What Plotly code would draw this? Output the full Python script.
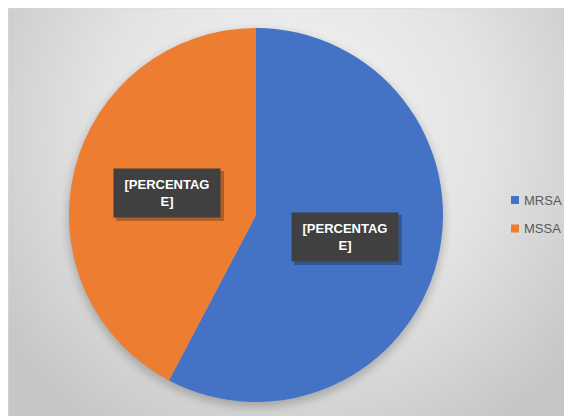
import math
import base64
import plotly.graph_objects as go

# ---- data ----
labels = ["MRSA", "MSSA"]
values = [57.7, 42.3]
colors = ["#4472C4", "#ED7D31"]
data_label_text = ["[PERCENTAG<br>E]", "[PERCENTAG<br>E]"]

W, H = 572, 416
dom_x = [0.1066, 0.7605]
dom_y = [0.0529, 0.9519]

FONT = "Liberation Sans, Arial, sans-serif"

# pie geometry in pixels (margins are zero)
cx_px = (dom_x[0] + dom_x[1]) / 2 * W
cy_px = (dom_y[0] + dom_y[1]) / 2 * H  # from bottom
R_px = min((dom_x[1] - dom_x[0]) * W, (dom_y[1] - dom_y[0]) * H) / 2

# background: radial gradient + soft shadow under the pie
svg = f'''<svg xmlns="http://www.w3.org/2000/svg" width="{W}" height="{H}" viewBox="0 0 {W} {H}">
<defs>
<radialGradient id="g" gradientUnits="userSpaceOnUse" cx="{W*0.5}" cy="{H*0.3}" r="{W*0.62}">
<stop offset="0" stop-color="#f6f6f6"/>
<stop offset="0.55" stop-color="#e3e3e3"/>
<stop offset="1" stop-color="#c6c6c6"/>
</radialGradient>
<filter id="b" x="-20%" y="-20%" width="140%" height="140%"><feGaussianBlur stdDeviation="5"/></filter>
<filter id="s" x="-20%" y="-20%" width="140%" height="140%"><feGaussianBlur stdDeviation="1.5"/></filter>
</defs>
<rect x="0" y="0" width="{W}" height="{H}" fill="url(#g)"/>
<circle cx="{cx_px}" cy="{H - cy_px + 4}" r="{R_px+1}" fill="#000" opacity="0.22" filter="url(#b)"/>
</svg>'''
src = "data:image/svg+xml;base64," + base64.b64encode(svg.encode()).decode()

fig = go.Figure()
fig.add_trace(go.Pie(
    labels=labels,
    values=values,
    marker=dict(colors=colors, line=dict(width=0)),
    sort=False,
    direction="clockwise",
    rotation=0,
    textinfo="none",
    hoverinfo="label+percent",
    domain=dict(x=dom_x, y=dom_y),
    showlegend=False,
))

shapes = [dict(type="rect", xref="paper", yref="paper", x0=0, y0=0, x1=1, y1=1,
               line=dict(color="#d9d9d9", width=1), layer="below")]
annotations = []

# data label boxes placed at the mid-angle of each slice
BOX_W, BOX_H, PAD = 102, 44, 2
total = sum(values)
start = 0.0
for v, txt in zip(values, data_label_text):
    mid = (start + v / 2) / total * 2 * math.pi
    start += v
    rr = 0.49 * R_px
    x_px = cx_px + rr * math.sin(mid)
    y_px = cy_px + rr * math.cos(mid)
    hw = BOX_W / 2 + PAD + 1
    hh = BOX_H / 2 + PAD + 1
    # drop shadow of the label box
    shapes.append(dict(type="rect", xref="paper", yref="paper", layer="above",
                       x0=(x_px - hw + 3) / W, x1=(x_px + hw + 3) / W,
                       y0=(y_px - hh - 3) / H, y1=(y_px + hh - 3) / H,
                       fillcolor="rgba(0,0,0,0.25)", line=dict(width=0)))
    annotations.append(dict(text="<b>" + txt + "</b>", x=x_px / W, y=y_px / H,
                            xref="paper", yref="paper", xanchor="center", yanchor="middle",
                            showarrow=False, width=BOX_W, height=BOX_H, borderpad=PAD,
                            align="center", valign="middle", bgcolor="#404040",
                            font=dict(color="#ffffff", size=13, family=FONT)))

# legend (drawn as shapes + text so it matches the compact Office style)
leg_x = 503
leg_y0 = 192
leg_dy = 28.5
for i, (lab, col) in enumerate(zip(labels, colors)):
    yc = H - (leg_y0 + i * leg_dy)
    shapes.append(dict(type="rect", xref="paper", yref="paper",
                       x0=leg_x / W, x1=(leg_x + 8) / W,
                       y0=(yc - 4) / H, y1=(yc + 4) / H,
                       fillcolor=col, line=dict(width=0)))
    annotations.append(dict(text=lab, x=(leg_x + 11) / W, y=yc / H, xref="paper", yref="paper",
                            xanchor="left", yanchor="middle", showarrow=False,
                            font=dict(family=FONT, size=13, color="#595959")))

fig.update_layout(
    width=W, height=H,
    margin=dict(l=0, r=0, t=0, b=0),
    paper_bgcolor="#ffffff",
    plot_bgcolor="rgba(0,0,0,0)",
    images=[dict(source=src, xref="paper", yref="paper", x=0, y=1,
                 sizex=1, sizey=1, sizing="stretch", xanchor="left",
                 yanchor="top", layer="below")],
    shapes=shapes,
    annotations=annotations,
    showlegend=False,
    font=dict(family=FONT),
)

fig.write_html("out.html")
